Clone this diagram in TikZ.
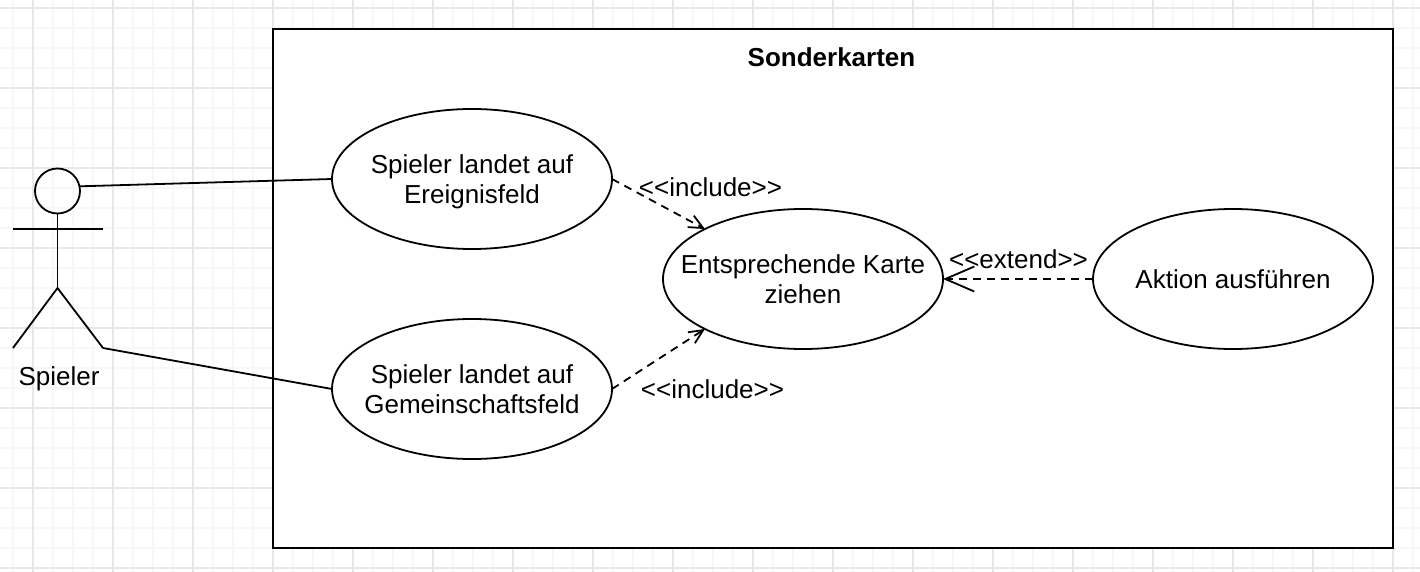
\documentclass[tikz,border=0pt]{standalone}
\usepackage{fontspec}
\setmainfont{Liberation Sans}
\usetikzlibrary{arrows.meta,shapes.geometric}
\tikzset{
  x=1pt,y=-1pt,
  usecase/.style={draw=black,fill=white,ellipse,line width=1.8pt,minimum width=280pt,minimum height=140pt,inner sep=0pt,outer sep=0pt,label={[uctext,yshift=-3.6pt]center:#1}},
  uctext/.style={inner sep=0pt,align=center,font=\fontsize{26}{29.5}\selectfont},
  lbl/.style={inner sep=0pt,font=\fontsize{26}{29.5}\selectfont},
  solidline/.style={draw=black,line width=1.8pt},
  depline/.style={draw=black,line width=1.8pt,dash pattern=on 8pt off 6pt},
  smalltip/.style={-{Straight Barb[length=14pt,width=13pt,line width=1.8pt]}},
  bigtip/.style={-{Straight Barb[length=29pt,width=25pt,line width=1.8pt]}},
  minorgrid/.style={draw={rgb,255:red,247;green,247;blue,247},line width=2pt},
  majorgrid/.style={draw={rgb,255:red,232;green,232;blue,232},line width=2pt},
}
\begin{document}
\begin{tikzpicture}
\useasboundingbox (0,0) rectangle (1420,572);
\fill[white] (0,0) rectangle (1420,572);
\foreach \i in {-1,...,71}{\draw[minorgrid] ({13+20*\i},0) -- ({13+20*\i},572);}
\foreach \i in {0,...,28}{\draw[minorgrid] (0,{8+20*\i}) -- (1420,{8+20*\i});}
\foreach \i in {0,...,17}{\draw[majorgrid] ({33+80*\i},0) -- ({33+80*\i},572);}
\foreach \i in {0,...,7}{\draw[majorgrid] (0,{8+80*\i}) -- (1420,{8+80*\i});}
\node[draw=black,fill=white,line width=2pt,minimum width=1120pt,minimum height=519pt,inner sep=0pt,outer sep=0pt,anchor=north west] (system) at (273,29) {};
\node[lbl,font=\fontsize{26}{29.5}\selectfont\bfseries] (title) at (831.5,57) {Sonderkarten};
\node[usecase={Spieler landet auf\strut\\Ereignisfeld\strut}] (ereignis) at (472,179) {};
\node[usecase={Spieler landet auf\strut\\Gemeinschaftsfeld\strut}] (gemein) at (472,389) {};
\node[usecase={Entsprechende Karte\strut\\ziehen\strut}] (karte) at (803,279) {};
\node[usecase={Aktion ausführen\strut}] (aktion) at (1233,279) {};
\node[circle,draw=black,line width=1.8pt,minimum size=45pt,inner sep=0pt,outer sep=0pt] (head) at (57.5,191) {};
\coordinate (hip) at (57.5,288);
\coordinate (armL) at (13,229);
\coordinate (armR) at (103,229);
\coordinate (footL) at (13,348);
\coordinate (footR) at (103,348);
\draw[solidline] (head.south) -- (hip);
\draw[solidline] (armL) -- (armR);
\draw[solidline] (footL) -- (hip) -- (footR);
\node[lbl] (spieler) at (59,379) {Spieler};
\draw[solidline] (head.12) -- (ereignis.west);
\draw[solidline] (footR) -- (gemein.west);
\draw[depline,smalltip] (ereignis.east) -- (karte.153);
\draw[depline,smalltip] (gemein.east) -- (karte.207);
\draw[depline,bigtip] (aktion.west) -- (karte.east);
\node[lbl] (inc1) at (710.5,187.5) {<{}<include>{}>};
\node[lbl] (inc2) at (712.5,389.5) {<{}<include>{}>};
\node[lbl] (ext) at (1018.5,259) {<{}<extend>{}>};
\end{tikzpicture}
\end{document}
